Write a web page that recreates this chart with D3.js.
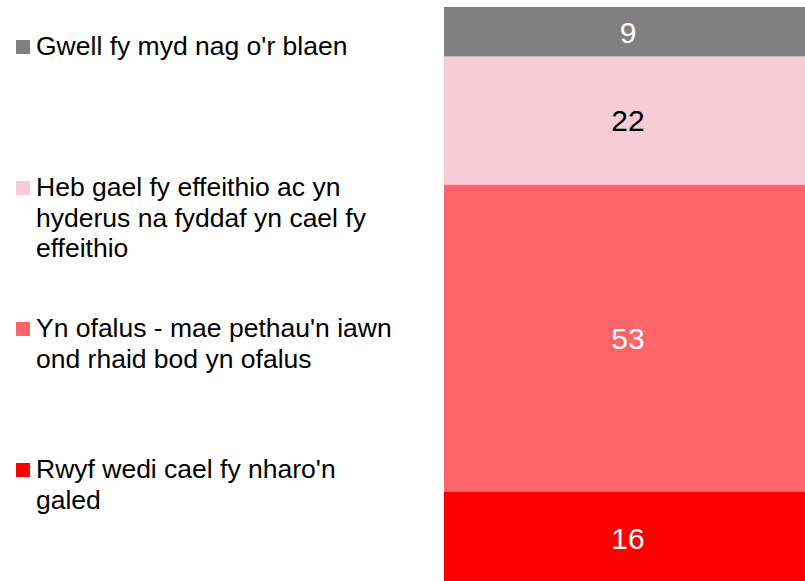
<!DOCTYPE html>
<html>
<head>
<meta charset="utf-8">
<script src="https://cdn.jsdelivr.net/npm/d3@7"></script>
<style>
  html, body { margin: 0; padding: 0; background: #fff; }
  svg { display: block; font-family: "Liberation Sans", Arial, sans-serif; }
</style>
</head>
<body>
<div id="chart"></div>
<script>
// Categories, top of the bar to bottom
const categories = [
    "Gwell fy myd nag o'r blaen",
    "Heb gael fy effeithio ac yn hyderus na fyddaf yn cael fy effeithio",
    "Yn ofalus - mae pethau'n iawn ond rhaid bod yn ofalus",
    "Rwyf wedi cael fy nharo'n galed"
];
// Share of respondents (%)
const values = [8.6, 22.2, 53.2, 16.0];
const colors = ["#808080", "#f7ccd6", "#ff6468", "#ff0000"];
const labelColors = ["#ffffff", "#000000", "#ffffff", "#ffffff"];

const width = 805;
const height = 581;

const svg = d3.select("#chart").append("svg")
    .attr("width", width)
    .attr("height", height);

// Single stacked bar
const row = {};
categories.forEach((c, i) => row[c] = values[i]);
const series = d3.stack().keys(categories)([row]);

const y = d3.scaleLinear()
    .domain([0, 100])
    .range([7, 584]);

const x = d3.scaleBand()
    .domain(["all"])
    .range([444, 812]);

const seg = svg.append("g")
    .selectAll("g")
    .data(series)
    .join("g");

seg.append("rect")
    .attr("x", x("all"))
    .attr("width", x.bandwidth())
    .attr("y", d => y(d[0][0]))
    .attr("height", d => y(d[0][1]) - y(d[0][0]))
    .attr("fill", (d, i) => colors[i]);

seg.append("text")
    .attr("x", x("all") + x.bandwidth() / 2)
    .attr("y", d => (y(d[0][0]) + y(d[0][1])) / 2)
    .attr("dy", "0.36em")
    .attr("text-anchor", "middle")
    .attr("font-size", 30)
    .attr("fill", (d, i) => labelColors[i])
    .text(d => Math.round(d[0][1] - d[0][0]));

// Legend
const legendY = d3.scalePoint()
    .domain(categories)
    .range([55, 478]);

const legend = svg.append("g")
    .selectAll("g")
    .data(categories)
    .join("g")
    .attr("transform", d => `translate(0,${legendY(d)})`);

legend.append("rect")
    .attr("x", 16)
    .attr("y", -15)
    .attr("width", 14)
    .attr("height", 14)
    .attr("fill", (d, i) => colors[i]);

legend.append("text")
    .attr("x", 36)
    .attr("font-size", 26.5)
    .attr("fill", "#000")
    .each(function(d) { wrap(d3.select(this), d, 360); });

function wrap(text, str, maxWidth) {
    const words = str.split(" ");
    let line = [];
    let tspan = text.append("tspan").attr("x", 36).attr("dy", 0);
    for (const w of words) {
        line.push(w);
        tspan.text(line.join(" "));
        if (tspan.node().getComputedTextLength() > maxWidth && line.length > 1) {
            line.pop();
            tspan.text(line.join(" "));
            line = [w];
            tspan = text.append("tspan").attr("x", 36).attr("dy", 30.5).text(w);
        }
    }
}
</script>
</body>
</html>
